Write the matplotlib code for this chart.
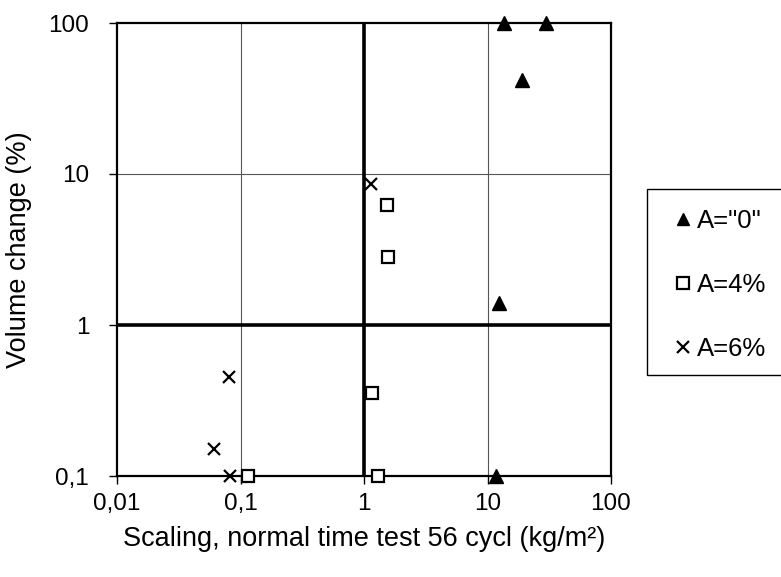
import matplotlib.pyplot as plt
from matplotlib.patches import Rectangle

plt.rcParams['font.family'] = ['Liberation Sans', 'DejaVu Sans']

# data (log-log)
tri_x = [13.5, 30, 19, 12.3, 11.8]
tri_y = [100, 100, 42, 1.4, 0.1]
sq_x = [1.54, 1.57, 1.16, 1.3, 0.114]
sq_y = [6.2, 2.8, 0.355, 0.1, 0.1]
cr_x = [1.14, 0.081, 0.061, 0.082]
cr_y = [8.6, 0.45, 0.15, 0.1]

tick_vals = [0.01, 0.1, 1, 10, 100]
tick_labels = ['0,01', '0,1', '1', '10', '100']
ytick_vals = [0.1, 1, 10, 100]
ytick_labels = ['0,1', '1', '10', '100']

fig = plt.figure(figsize=(7.81, 5.77), dpi=100)
ax = fig.add_axes([117 / 781, 1 - 476 / 577, 494 / 781, 453 / 577])
ax.set_xscale('log')
ax.set_yscale('log')
ax.set_xlim(0.01, 100)
ax.set_ylim(0.1, 100)

# thin grid and heavy reference lines at 1
for v in [0.1, 10]:
    ax.axvline(v, color='#555555', lw=0.8, zorder=1)
ax.axhline(10, color='#555555', lw=0.8, zorder=1)
ax.axvline(1, color='black', lw=2.6, zorder=2)
ax.axhline(1, color='black', lw=2.6, zorder=2)

ax.plot(tri_x, tri_y, '^', color='black', ms=10, ls='none', clip_on=False,
        zorder=5, label='A="0"')
ax.plot(sq_x, sq_y, 's', mfc='white', mec='black', mew=1.6, ms=9, ls='none',
        clip_on=False, zorder=5, label='A=4%')
ax.plot(cr_x, cr_y, 'x', color='black', mew=1.6, ms=9, ls='none',
        clip_on=False, zorder=5, label='A=6%')

ax.set_xticks(tick_vals)
ax.set_xticklabels(tick_labels)
ax.set_yticks(ytick_vals)
ax.set_yticklabels(ytick_labels)
ax.minorticks_off()
ax.tick_params(axis='both', direction='out', length=6, width=1, labelsize=17.5)
ax.tick_params(axis='x', pad=6)
ax.tick_params(axis='y', pad=14)
for s in ax.spines.values():
    s.set_linewidth(1.6)

ax.set_xlabel('Scaling, normal time test 56 cycl (kg/m²)', fontsize=19.5, labelpad=8)
ax.set_ylabel('Volume change (%)', fontsize=19.5, labelpad=12)

# legend box runs past the right edge of the figure
fig.patches.append(Rectangle((647 / 781, 1 - 375 / 577), 0.3, 186 / 577,
                             transform=fig.transFigure, fill=False,
                             edgecolor='black', lw=1))
fig.legend(loc='center left', bbox_to_anchor=(662 / 781, 1 - 285 / 577),
           frameon=False, fontsize=18.5, handlelength=0.6, handletextpad=0.25,
           labelspacing=1.55, borderpad=0, markerscale=0.9)

fig.savefig('out.png', dpi=100)
